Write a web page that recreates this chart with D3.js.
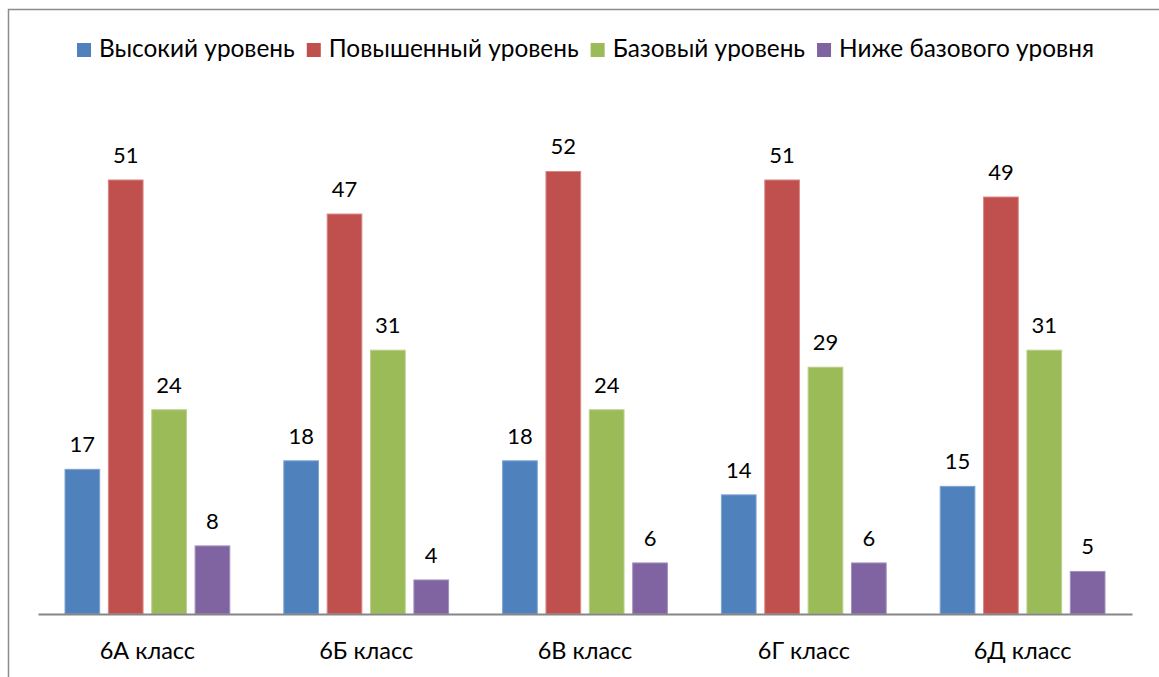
<!DOCTYPE html>
<html>
<head>
<meta charset="utf-8">
<script src="https://cdn.jsdelivr.net/npm/d3@7"></script>
<style>
  body { margin: 0; background: #fff; }
  text { font-family: Lato, "Open Sans", sans-serif; fill: #000; }
</style>
</head>
<body>
<script>
let width = 1159,
    height = 677;

// data
let classes = ["6А класс", "6Б класс", "6В класс", "6Г класс", "6Д класс"];
let levels = ["Высокий уровень", "Повышенный уровень", "Базовый уровень", "Ниже базового уровня"];
let high = [17, 18, 18, 14, 15];
let raised = [51, 47, 52, 51, 49];
let basic = [24, 31, 24, 29, 31];
let belowBasic = [8, 4, 6, 6, 5];
let colors = ["#4F81BD", "#C0504D", "#9BBB59", "#8064A2"];
let strokes = ["#7FA3D3", "#D98785", "#B9D18A", "#A38FBF"];

let series = [high, raised, basic, belowBasic];

let svg = d3.select("body").append("svg")
    .attr("width", width)
    .attr("height", height);

// outer frame (right and bottom edges fall outside the picture)
svg.append("rect")
    .attr("x", 8.5)
    .attr("y", 9.5)
    .attr("width", width + 20)
    .attr("height", height + 20)
    .attr("fill", "#fff")
    .attr("stroke", "#8c8c8c")
    .attr("stroke-width", 1.5);

let x0 = d3.scaleBand()
    .domain(classes)
    .range([38, 1132])
    .paddingInner(0)
    .paddingOuter(0);

let x1 = d3.scaleBand()
    .domain(d3.range(levels.length))
    .range([27, x0.bandwidth() - 27])
    .paddingInner(0.2);

let y = d3.scaleLinear()
    .domain([0, 60])
    .range([614, 103.4]);

let groups = svg.selectAll(".group")
    .data(classes)
    .enter().append("g")
    .attr("class", "group")
    .attr("transform", d => "translate(" + x0(d) + ",0)");

groups.each(function(c, ci) {
  let g = d3.select(this);
  series.forEach(function(s, si) {
    g.append("rect")
      .attr("x", x1(si))
      .attr("y", y(s[ci]))
      .attr("width", x1.bandwidth())
      .attr("height", y(0) - y(s[ci]))
      .attr("fill", colors[si])
      .attr("stroke", strokes[si])
      .attr("stroke-width", 1);

    g.append("text")
      .attr("x", x1(si) + x1.bandwidth() / 2)
      .attr("y", y(s[ci]) - 17)
      .attr("text-anchor", "middle")
      .style("font-size", "22px")
      .text(s[ci]);
  });
});

// x axis: baseline only, no ticks
let xAxis = svg.append("g")
    .attr("transform", "translate(0," + y(0) + ")")
    .call(d3.axisBottom(x0).tickSize(0));

xAxis.select(".domain")
    .attr("stroke", "#868686")
    .attr("stroke-width", 2);

xAxis.selectAll("text")
    .attr("dy", null)
    .attr("y", 45)
    .style("font-size", "23.5px")
    .style("font-family", "Lato, 'Open Sans', sans-serif")
    .attr("fill", "#000");

// legend, centred on top
let legend = svg.append("g");
let lx = 0;
levels.forEach(function(name, i) {
  let item = legend.append("g").attr("transform", "translate(" + lx + ",0)");
  item.append("rect")
    .attr("x", 0)
    .attr("y", 43)
    .attr("width", 14)
    .attr("height", 14)
    .attr("fill", colors[i]);
  let t = item.append("text")
    .attr("x", 22)
    .attr("y", 57)
    .style("font-size", "24.4px")
    .text(name);
  lx += 22 + t.node().getComputedTextLength() + 12;
});
let legendWidth = lx - 12;
legend.attr("transform", "translate(" + (585.5 - legendWidth / 2) + ",0)");
</script>
</body>
</html>
